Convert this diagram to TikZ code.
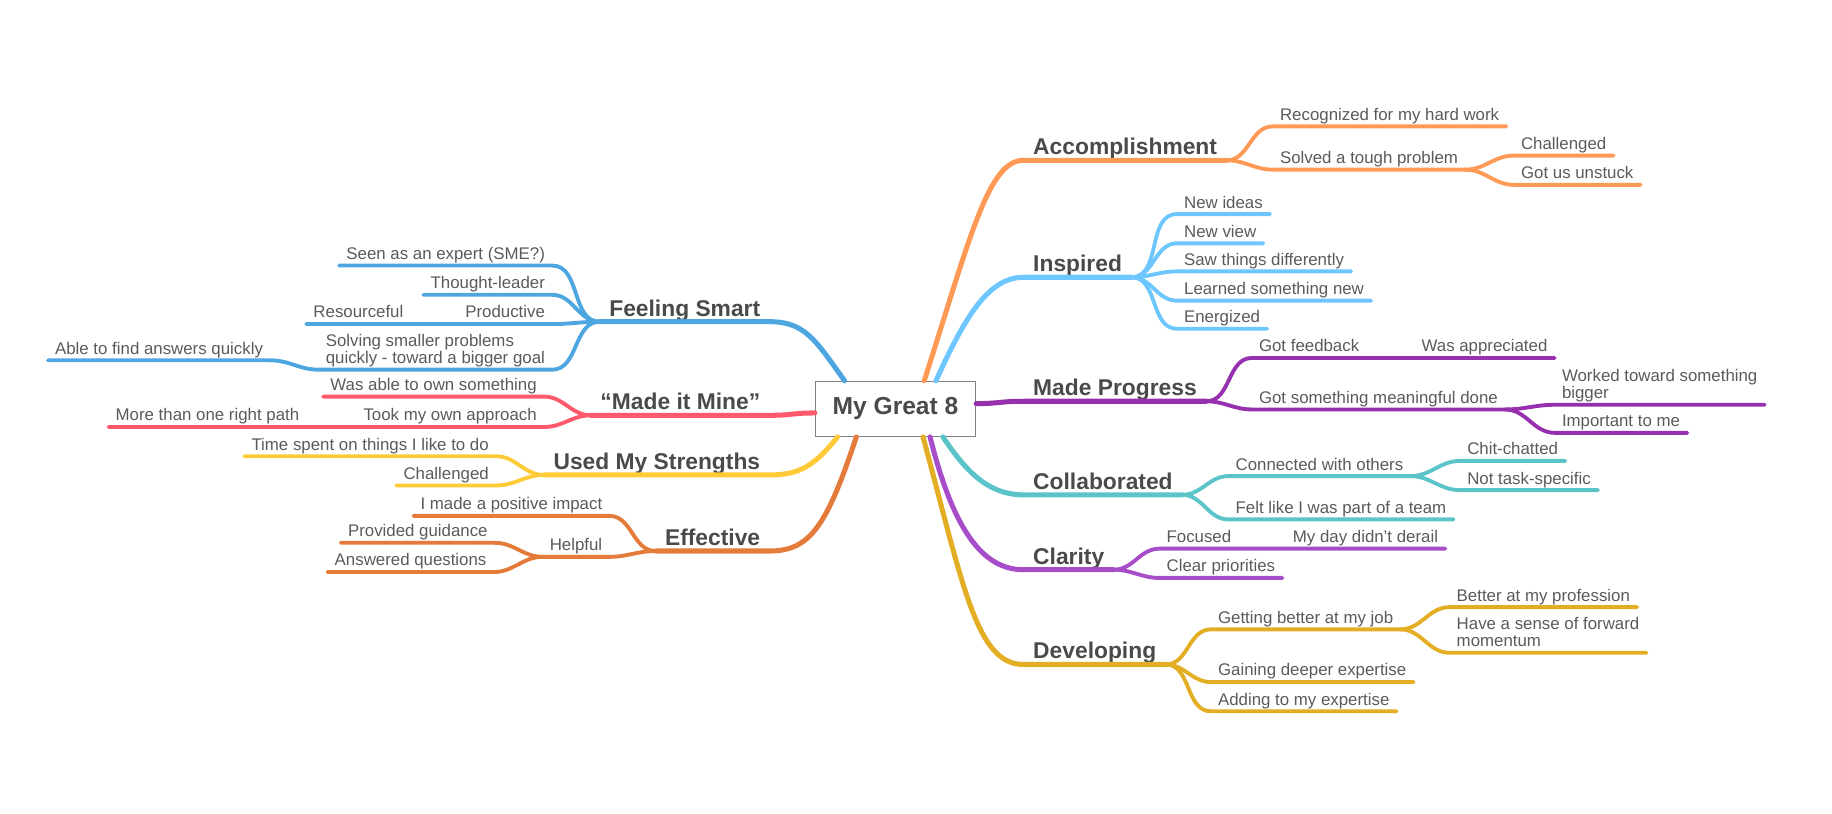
\documentclass[tikz,border=0pt]{standalone}
\usepackage{fontspec}
\setmainfont{Liberation Sans}
\usepackage{tikz}

\definecolor{accorange}{HTML}{FF9A56}
\definecolor{inspblue}{HTML}{6EC6FF}
\definecolor{progpurple}{HTML}{9630AE}
\definecolor{collteal}{HTML}{5AC4C9}
\definecolor{clarviolet}{HTML}{A84DC9}
\definecolor{devgold}{HTML}{E3AE24}
\definecolor{smartblue}{HTML}{4DA6E0}
\definecolor{minered}{HTML}{FF5A6B}
\definecolor{stryellow}{HTML}{FFCA38}
\definecolor{effbrown}{HTML}{E57B3A}
\definecolor{leafgray}{HTML}{5A5A5A}
\definecolor{labgray}{HTML}{4A4A4A}

\newcommand{\twoline}[2]{\begin{tabular}[b]{@{}l@{}}#1\\#2\end{tabular}}

\begin{document}
\begin{tikzpicture}[x=1pt,y=-1pt,
  main/.style={font={\fontsize{19.5}{21}\selectfont\bfseries}, text=labgray, inner xsep=8pt, inner ysep=0pt, text depth=4.5pt},
  leaf/.style={font={\fontsize{14.4}{15}\selectfont}, text=leafgray, inner xsep=6pt, inner ysep=2.5pt, text depth=.25em},
  lw/.style={leaf, anchor=south west},
  le/.style={leaf, anchor=south east},
  mainline/.style={line width=4.3pt, line cap=round},
  subline/.style={line width=3.3pt, line cap=round},
  rfan/.style={out=0, in=180},
  lfan/.style={out=180, in=0}]

\useasboundingbox (0,0) rectangle (1566,695);

% centre
\node[draw=gray, line width=.9pt, fill=white, minimum width=137pt, minimum height=47pt,
  font={\fontsize{21}{24}\selectfont\bfseries}, text=labgray] (g8) at (765.5,349.5) {My Great 8};

% right side
\node[main, anchor=south west] (acc) at (875,137) {Accomplishment};
\node[lw] (rec) at (1088,108) {Recognized for my hard work};
\node[lw] (sol) at (1088,145) {Solved a tough problem};
\node[lw] (chal) at (1294,133) {Challenged};
\node[lw] (unst) at (1294,158) {Got us unstuck};

\node[main, anchor=south west] (insp) at (875,237) {Inspired};
\node[lw] (ideas) at (1006,183) {New ideas};
\node[lw] (view) at (1006,208) {New view};
\node[lw] (saw) at (1006,232) {Saw things differently};
\node[lw] (learn) at (1006,257) {Learned something new};
\node[lw] (ener) at (1006,281) {Energized};

\node[main, anchor=south west] (prog) at (875,343) {Made Progress};
\node[lw] (fb) at (1070,306) {Got feedback};
\node[lw] (wa) at (1209,306) {Was appreciated};
\node[lw] (mean) at (1070,350) {Got something meaningful done};
\node[lw] (bigger) at (1329,346) {\twoline{Worked toward something}{bigger}};
\node[lw] (imp) at (1329,370) {Important to me};

\node[main, anchor=south west] (coll) at (875,423) {Collaborated};
\node[lw] (conn) at (1050,407) {Connected with others};
\node[lw] (chit) at (1248,394) {Chit-chatted};
\node[lw] (nts) at (1248,419) {Not task-specific};
\node[lw] (team) at (1050,444) {Felt like I was part of a team};

\node[main, anchor=south west] (clar) at (875,487) {Clarity};
\node[lw] (foc) at (991,469) {Focused};
\node[lw] (derail) at (1099,469) {My day didn't derail};
\node[lw] (prio) at (991,494) {Clear priorities};

\node[main, anchor=south west] (dev) at (875,568) {Developing};
\node[lw] (job) at (1035,538) {Getting better at my job};
\node[lw] (prof) at (1239,519) {Better at my profession};
\node[lw] (mom) at (1239,558) {\twoline{Have a sense of forward}{momentum}};
\node[lw] (gain) at (1035,583) {Gaining deeper expertise};
\node[lw] (add) at (1035,608) {Adding to my expertise};

% left side
\node[main, anchor=south east] (smart) at (658,275) {Feeling Smart};
\node[le] (sme) at (472,227) {Seen as an expert (SME?)};
\node[le] (tl) at (472,252) {Thought-leader};
\node[le] (prod) at (472,277) {Productive};
\node[le] (res) at (351,277) {Resourceful};
\node[le] (solv) at (472,316) {\twoline{Solving smaller problems}{quickly - toward a bigger goal}};
\node[le] (able) at (231,308) {Able to find answers quickly};

\node[main, anchor=south east] (mine) at (658,355) {“Made it Mine”};
\node[le] (own) at (465,339) {Was able to own something};
\node[le] (appr) at (465,365) {Took my own approach};
\node[le] (more) at (262,365) {More than one right path};

\node[main, anchor=south east] (str) at (658,406) {Used My Strengths};
\node[le] (time) at (424,390) {Time spent on things I like to do};
\node[le] (chal2) at (424,415) {Challenged};

\node[main, anchor=south east] (eff) at (658,471) {Effective};
\node[le] (pos) at (521,441) {I made a positive impact};
\node[le] (help) at (521,476) {Helpful};
\node[le] (guid) at (423,464) {Provided guidance};
\node[le] (ans) at (422,489) {Answered questions};

% main branches
\draw[mainline, accorange] ([xshift=24.5pt]g8.north) .. controls +(40,-125) and +(-30,0) .. (acc.south west) -- (acc.south east);
\draw[mainline, inspblue] ([xshift=34.5pt]g8.north) .. controls +(25,-55) and +(-30,0) .. (insp.south west) -- (insp.south east);
\draw[mainline, progpurple] ([yshift=4.5pt]g8.east) .. controls +(20,0) and +(-20,0) .. (prog.south west) -- (prog.south east);
\draw[mainline, collteal] ([xshift=40.5pt]g8.south) .. controls +(20,30) and +(-30,0) .. (coll.south west) -- (coll.south east);
\draw[mainline, clarviolet] ([xshift=29.5pt]g8.south) .. controls +(20,80) and +(-35,0) .. (clar.south west) -- (clar.south east);
\draw[mainline, devgold] ([xshift=23.5pt]g8.south) .. controls +(35,130) and +(-40,0) .. (dev.south west) -- (dev.south east);

\draw[mainline, smartblue] ([xshift=-43.5pt]g8.north) .. controls +(-25,-35) and +(30,0) .. (smart.south east) -- (smart.south west);
\draw[mainline, minered] ([yshift=-3.5pt]g8.west) .. controls +(-20,0) and +(20,0) .. (mine.south east) -- (mine.south west);
\draw[mainline, stryellow] ([xshift=-49.5pt]g8.south) .. controls +(-20,25) and +(25,0) .. (str.south east) -- (str.south west);
\draw[mainline, effbrown] ([xshift=-33.5pt]g8.south) .. controls +(-25,75) and +(35,0) .. (eff.south east) -- (eff.south west);

% right sub branches
\draw[subline, accorange] (acc.south east) to[rfan] (rec.south west) -- (rec.south east);
\draw[subline, accorange] (acc.south east) to[rfan] (sol.south west) -- (sol.south east);
\draw[subline, accorange] (sol.south east) to[rfan] (chal.south west) -- (chal.south east);
\draw[subline, accorange] (sol.south east) to[rfan] (unst.south west) -- (unst.south east);

\draw[subline, inspblue] (insp.south east) to[rfan] (ideas.south west) -- (ideas.south east);
\draw[subline, inspblue] (insp.south east) to[rfan] (view.south west) -- (view.south east);
\draw[subline, inspblue] (insp.south east) to[rfan] (saw.south west) -- (saw.south east);
\draw[subline, inspblue] (insp.south east) to[rfan] (learn.south west) -- (learn.south east);
\draw[subline, inspblue] (insp.south east) to[rfan] (ener.south west) -- (ener.south east);

\draw[subline, progpurple] (prog.south east) to[rfan] (fb.south west) -- (wa.south east);
\draw[subline, progpurple] (prog.south east) to[rfan] (mean.south west) -- (mean.south east);
\draw[subline, progpurple] (mean.south east) to[rfan] (bigger.south west) -- (bigger.south east);
\draw[subline, progpurple] (mean.south east) to[rfan] (imp.south west) -- (imp.south east);

\draw[subline, collteal] (coll.south east) to[rfan] (conn.south west) -- (conn.south east);
\draw[subline, collteal] (conn.south east) to[rfan] (chit.south west) -- (chit.south east);
\draw[subline, collteal] (conn.south east) to[rfan] (nts.south west) -- (nts.south east);
\draw[subline, collteal] (coll.south east) to[rfan] (team.south west) -- (team.south east);

\draw[subline, clarviolet] (clar.south east) to[rfan] (foc.south west) -- (derail.south east);
\draw[subline, clarviolet] (clar.south east) to[rfan] (prio.south west) -- (prio.south east);

\draw[subline, devgold] (dev.south east) to[rfan] (job.south west) -- (job.south east);
\draw[subline, devgold] (job.south east) to[rfan] (prof.south west) -- (prof.south east);
\draw[subline, devgold] (job.south east) to[rfan] (mom.south west) -- (mom.south east);
\draw[subline, devgold] (dev.south east) to[rfan] (gain.south west) -- (gain.south east);
\draw[subline, devgold] (dev.south east) to[rfan] (add.south west) -- (add.south east);

% left sub branches
\draw[subline, smartblue] (smart.south west) to[lfan] (sme.south east) -- (sme.south west);
\draw[subline, smartblue] (smart.south west) to[lfan] (tl.south east) -- (tl.south west);
\draw[subline, smartblue] (smart.south west) to[lfan] (prod.south east) -- (res.south west);
\draw[subline, smartblue] (smart.south west) to[lfan] (solv.south east) -- (solv.south west) to[lfan] (able.south east) -- (able.south west);

\draw[subline, minered] (mine.south west) to[lfan] (own.south east) -- (own.south west);
\draw[subline, minered] (mine.south west) to[lfan] (appr.south east) -- (more.south west);

\draw[subline, stryellow] (str.south west) to[lfan] (time.south east) -- (time.south west);
\draw[subline, stryellow] (str.south west) to[lfan] (chal2.south east) -- (chal2.south west);

\draw[subline, effbrown] (eff.south west) to[lfan] (pos.south east) -- (pos.south west);
\draw[subline, effbrown] (eff.south west) to[lfan] (help.south east) -- (help.south west);
\draw[subline, effbrown] (help.south west) to[lfan] (guid.south east) -- (guid.south west);
\draw[subline, effbrown] (help.south west) to[lfan] (ans.south east) -- (ans.south west);

\end{tikzpicture}
\end{document}
